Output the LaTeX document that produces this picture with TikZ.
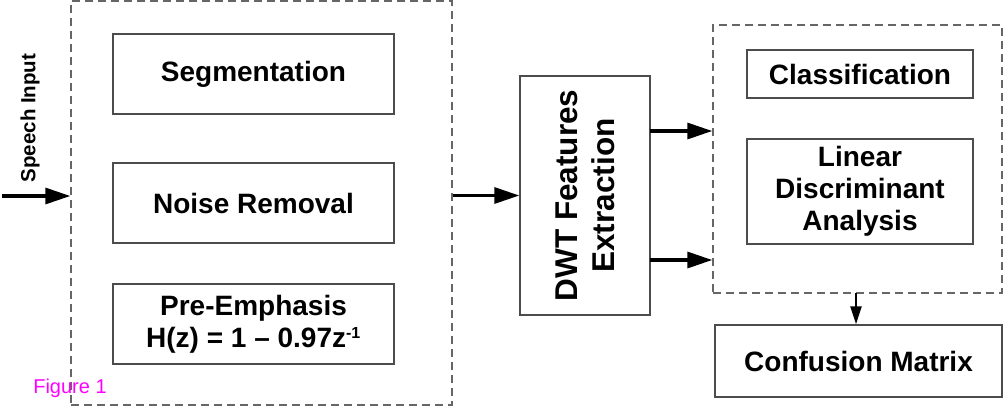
\documentclass[tikz,border=0pt]{standalone}
\usepackage{fontspec}
\setmainfont{Liberation Sans}
\usetikzlibrary{arrows.meta}
\definecolor{figmag}{RGB}{255,0,255}
\begin{document}
\begin{tikzpicture}[x=1pt,y=-1pt,
  box/.style={draw=black!70,line width=1.4pt,rectangle,inner sep=0pt,align=center,
    font=\fontsize{28}{32}\selectfont\bfseries},
  group/.style={draw=black!60,line width=1.4pt,dash pattern=on 8pt off 5pt,rectangle,inner sep=0pt},
  flow/.style={line width=3.2pt,-{Triangle[length=25pt,width=16pt]}},
  thin flow/.style={line width=2.4pt,-{Triangle[length=18pt,width=11pt]}}]
\useasboundingbox (0,0) rectangle (1004,408);
% left group
\node[group,minimum width=381pt,minimum height=404pt] (left) at (261.5,203) {};
\node[box,minimum width=281pt,minimum height=80pt] (seg) at (253.5,74) {Segmentation};
\node[box,minimum width=281pt,minimum height=80pt] (noise) at (253.5,203) {Noise Removal};
\node[box,minimum width=281pt,minimum height=80pt] (pre) at (253.5,324) {Pre-Emphasis\\H(z) = 1 – 0.97z\textsuperscript{\fontsize{16}{16}\selectfont-1}};
% speech input
\coordinate (in) at (2,196);
\node[rotate=90,font=\fontsize{20.5}{24}\selectfont\bfseries] (speech) at (30,118) {Speech Input};
\draw[flow] (in) -- (in -| left.west);
% DWT
\node[box,minimum width=130pt,minimum height=239pt] (dwt) at (585,195.5) {};
\node[rotate=90,align=center,font=\fontsize{31.5}{37}\selectfont\bfseries] (dwttext) at (dwt.center) {DWT Features\\Extraction};
\draw[flow] (dwt.west -| left.east) -- (dwt.west);
% right group
\node[group,minimum width=289pt,minimum height=268pt] (right) at (857.5,159) {};
\node[box,minimum width=226pt,minimum height=48pt] (cls) at (860,74) {Classification};
\node[box,minimum width=226pt,minimum height=105pt] (lda) at (860,191.5) {Linear\\Discriminant\\Analysis};
\coordinate (o1) at (650,131);
\coordinate (o2) at (650,260);
\draw[flow] (o1) -- (o1 -| right.west);
\draw[flow] (o2) -- (o2 -| right.west);
% confusion matrix
\node[box,minimum width=287pt,minimum height=72pt] (cm) at (858.5,361) {Confusion Matrix};
\coordinate (d1) at (856,293);
\draw[thin flow] (d1) -- (d1 |- cm.north);
% figure label
\node[text=figmag,font=\fontsize{20}{24}\selectfont] (fig) at (70,388) {Figure 1};
\end{tikzpicture}
\end{document}
